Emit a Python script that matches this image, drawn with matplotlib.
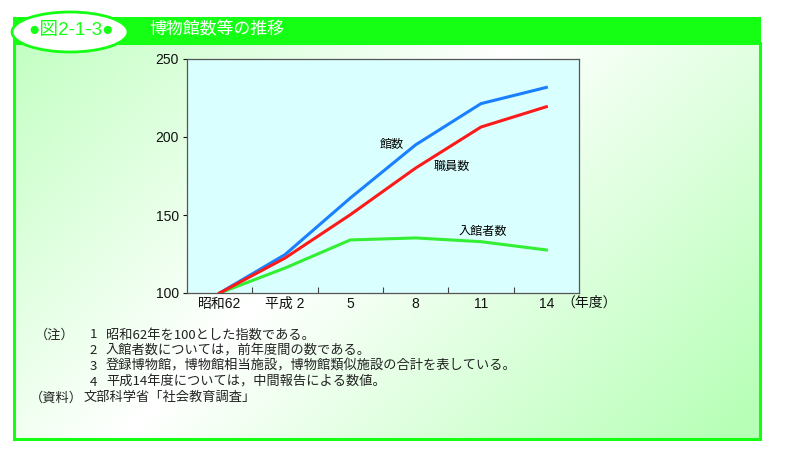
import numpy as np
import matplotlib
matplotlib.use('Agg')
import matplotlib.pyplot as plt
from matplotlib.patches import Rectangle, Ellipse

plt.rcParams['font.family'] = ['Liberation Sans', 'DejaVu Sans', 'Noto Sans CJK JP']

# data (昭和62年 = 100)
years = ['昭和62', '平成 2', '5', '8', '11', '14']
kan = [100, 124.6, 160.9, 195.0, 221.4, 231.8]       # 館数
shokuin = [100, 122.4, 150.2, 180.1, 206.4, 219.4]   # 職員数
nyukan = [100, 116.0, 134.0, 135.3, 132.9, 127.6]    # 入館者数
yticks = [100, 150, 200, 250]

notes = [
    ('1', '昭和62年を100とした指数である。'),
    ('2', '入館者数については，前年度間の数である。'),
    ('3', '登録博物館，博物館相当施設，博物館類似施設の合計を表している。'),
    ('4', '平成14年度については，中間報告による数値。'),
]
source = '文部科学省「社会教育調査」'

W, H = 786, 451
fig = plt.figure(figsize=(W / 100, H / 100), dpi=100)

# background layer in pixel coords
bg = fig.add_axes([0, 0, 1, 1])
bg.set_xlim(0, W)
bg.set_ylim(H, 0)
bg.axis('off')

# diagonal gradient panel
x0, x1, y0, y1 = 14, 760, 43, 439
xx, yy = np.meshgrid(np.linspace(x0, x1, 300), np.linspace(y0, y1, 200))
s = xx + yy
t = np.clip(np.abs(s - 560) / 600, 0, 1)
green = np.array([0.72, 1.0, 0.72])
white = np.array([1.0, 1.0, 1.0])
img = white[None, None, :] * (1 - t[..., None]) + green[None, None, :] * t[..., None]
bg.imshow(img, extent=[x0, x1, y1, y0], aspect='auto', zorder=0)
bg.add_patch(Rectangle((x0, y0), x1 - x0, y1 - y0, fill=False,
                       edgecolor='#14ff14', lw=2.2, zorder=2))

# header bar
bg.add_patch(Rectangle((x0 - 1, 17), x1 - x0 + 2, 26, facecolor='#14ff14',
                       edgecolor='none', zorder=3))
bg.add_patch(Ellipse((70, 32), 116, 40, facecolor='white',
                     edgecolor='#14ff14', lw=2, zorder=4))
bg.text(71, 30, '●図2-1-3●', color='#14ff14', fontsize=13.5,
        ha='center', va='center', zorder=5)
bg.text(149, 29, '博物館数等の推移', color='white', fontsize=12.2,
        ha='left', va='center', zorder=5, family='Noto Sans CJK JP')

# notes
cjk = ['Noto Sans CJK JP']
fs = 9.5
ny = 335
bg.text(35, ny, '（注）', fontsize=fs, ha='left', va='center', color='#222222', family=cjk)
for i, (n, txt) in enumerate(notes):
    yy_ = ny + i * 15.7
    bg.text(93, yy_, n, fontsize=fs, ha='center', va='center', color='#222222', family=cjk)
    bg.text(106, yy_, txt, fontsize=fs, ha='left', va='center', color='#222222', family=cjk)
bg.text(30, ny + 4 * 15.7, '（資料）', fontsize=fs, ha='left', va='center', color='#222222', family=cjk)
bg.text(84, ny + 4 * 15.7, source, fontsize=fs, ha='left', va='center', color='#222222', family=cjk)

# chart
ax = fig.add_axes([187 / W, 1 - 293 / H, 392 / W, 234 / H])
ax.set_facecolor('#d9ffff')
x = np.arange(len(years))
ax.plot(x, kan, color='#1a80ff', lw=2.2, zorder=3)
ax.plot(x, shokuin, color='#ff1a1a', lw=2.2, zorder=3)
ax.plot(x, nyukan, color='#33ee33', lw=2.2, zorder=2)
ax.set_xlim(-0.5, len(years) - 0.5)
ax.set_ylim(100, 250)
ax.set_yticks(yticks)
ax.tick_params(axis='y', length=3, width=0.8, labelsize=10, pad=3, colors='#111111')
ax.set_xticks(x)
ax.set_xticklabels(years)
ax.tick_params(axis='x', length=0, labelsize=10, pad=3, colors='#111111')
ax.set_xticks(x[:-1] + 0.5, minor=True)
ax.tick_params(axis='x', which='minor', direction='in', length=4, width=0.8, color='#444444')
for sp in ax.spines.values():
    sp.set_color('#555555')
    sp.set_linewidth(0.9)

ax.text(2.64, 194.9, '館数', fontsize=8.7, ha='center', va='center')
ax.text(3.56, 180.8, '職員数', fontsize=8.7, ha='center', va='center')
ax.text(4.03, 139, '入館者数', fontsize=8.7, ha='center', va='center')
bg.text(561, 303, '（年度）', fontsize=10, ha='left', va='center', color='#111111',
        family=cjk)

fig.savefig('out.png', dpi=100)
